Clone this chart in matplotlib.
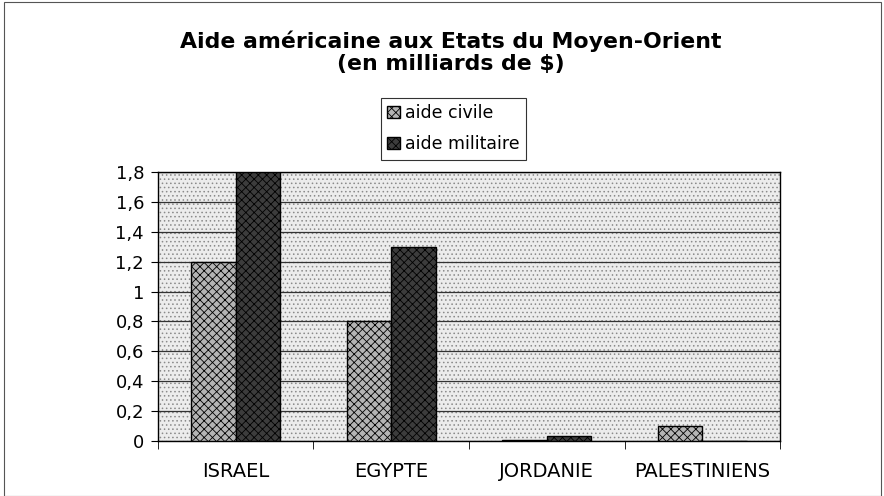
import numpy as np
import matplotlib.pyplot as plt
from matplotlib.patches import Rectangle

# data (billions of $)
pays = ["ISRAEL", "EGYPTE", "JORDANIE", "PALESTINIENS"]
aide_civile = [1.2, 0.8, 0.008, 0.1]
aide_militaire = [1.8, 1.3, 0.035, 0.0]
y_ticks = [0, 0.2, 0.4, 0.6, 0.8, 1.0, 1.2, 1.4, 1.6, 1.8]
y_labels = ["0", "0,2", "0,4", "0,6", "0,8", "1", "1,2", "1,4", "1,6", "1,8"]

plt.rcParams["font.family"] = ["DejaVu Sans"]
plt.rcParams["hatch.linewidth"] = 0.6

fig = plt.figure(figsize=(8.84, 4.96), dpi=100)
ax = fig.add_axes([0.1787, 0.1109, 0.7037, 0.5423])

# dotted light plot background
ax.set_facecolor("#ececec")
ax.patch.set_hatch("....")
ax.patch.set_edgecolor("#8a8a8a")

x = np.arange(len(pays))
w = 1 / 3.5
ax.bar(x - w / 2, aide_civile, w, facecolor="#b4b4b4", edgecolor="black",
       hatch="xxxx", linewidth=1.0, label="aide civile", zorder=3)
ax.bar(x + w / 2, aide_militaire, w, facecolor="#3c3c3c", edgecolor="black",
       hatch="xxxx", linewidth=1.0, label="aide militaire", zorder=3)

ax.set_xlim(-0.5, len(pays) - 0.5)
ax.set_ylim(0, 1.8)
ax.set_yticks(y_ticks)
ax.set_yticklabels(y_labels, fontsize=13)
ax.set_xticks(x)
ax.set_xticklabels(pays, fontsize=14)
ax.set_xticks(np.arange(len(pays) + 1) - 0.5, minor=True)
ax.tick_params(axis="x", which="major", length=0, pad=15)
ax.tick_params(axis="x", which="minor", length=6, direction="out", color="black")
ax.tick_params(axis="y", length=5, direction="out", pad=5)
ax.yaxis.grid(True, color="#333333", linewidth=0.9, zorder=1)
ax.set_axisbelow(True)
for s in ax.spines.values():
    s.set_color("black")
    s.set_linewidth(1.0)

fig.text(0.51, 0.903, "Aide américaine aux Etats du Moyen-Orient", ha="center",
         va="baseline", fontsize=15.8, fontweight="bold")
fig.text(0.51, 0.859, "(en milliards de $)", ha="center", va="baseline",
         fontsize=15.8, fontweight="bold")

leg = fig.legend(loc="center", bbox_to_anchor=(0.513, 0.740), fontsize=12.5,
                 frameon=True, fancybox=False, edgecolor="black",
                 handlelength=0.7, handleheight=0.7, handletextpad=0.3,
                 labelspacing=0.75, borderpad=0.35, borderaxespad=0)
leg.get_frame().set_linewidth(0.8)

# thin frame round the chart
fig.patches.append(Rectangle((0.004, 0.0), 0.993, 0.996, transform=fig.transFigure,
                             fill=False, edgecolor="#555555", linewidth=0.8))

fig.savefig("out.png", dpi=100)
